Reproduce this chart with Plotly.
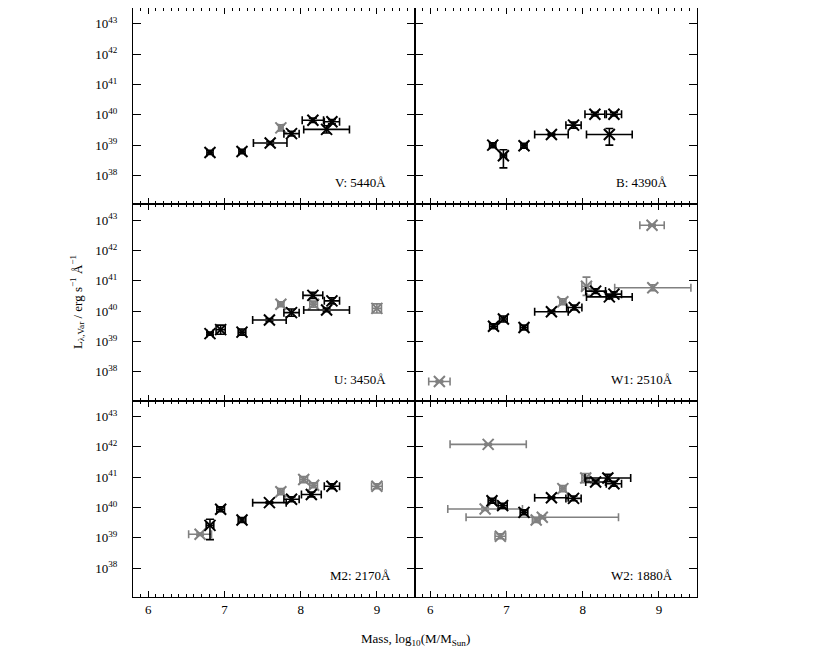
import plotly.graph_objects as go
from plotly.subplots import make_subplots

# ---------------- data (log10 mass, log10 luminosity) ----------------
bands = ["V: 5440Å", "B: 4390Å", "U: 3450Å", "W1: 2510Å", "M2: 2170Å", "W2: 1880Å"]

V_bx = [6.81, 7.23, 7.60, 7.88, 8.16, 8.41, 8.34]
V_by = [38.76, 38.79, 39.07, 39.38, 39.82, 39.77, 39.52]
V_bxe = [0.04, 0.04, 0.22, 0.10, 0.14, 0.10, 0.30]
V_byp = [0.07, 0.07, 0.05, 0.08, 0.07, 0.07, 0.12]
V_bym = [0.07, 0.07, 0.05, 0.08, 0.07, 0.07, 0.12]
V_gx = [7.74]
V_gy = [39.57]
V_gxe = [0.03]
V_gye = [0.10]

B_bx = [6.82, 6.96, 7.23, 7.59, 7.88, 8.16, 8.41, 8.35]
B_by = [39.00, 38.65, 38.98, 39.35, 39.66, 40.02, 40.02, 39.35]
B_bxe = [0.04, 0.04, 0.04, 0.22, 0.10, 0.13, 0.10, 0.30]
B_byp = [0.08, 0.20, 0.08, 0.04, 0.10, 0.06, 0.06, 0.20]
B_bym = [0.08, 0.40, 0.08, 0.04, 0.10, 0.06, 0.06, 0.35]
B_gx, B_gy, B_gxe, B_gye = [], [], [], []

U_bx = [6.81, 6.95, 7.23, 7.59, 7.88, 8.16, 8.41, 8.34]
U_by = [39.26, 39.39, 39.31, 39.71, 39.95, 40.52, 40.34, 40.04]
U_bxe = [0.04, 0.06, 0.05, 0.22, 0.10, 0.13, 0.10, 0.30]
U_byp = [0.05, 0.15, 0.10, 0.05, 0.12, 0.10, 0.10, 0.06]
U_bym = [0.05, 0.15, 0.10, 0.05, 0.12, 0.10, 0.10, 0.06]
U_gx = [7.74, 8.17, 9.00]
U_gy = [40.23, 40.23, 40.09]
U_gxe = [0.04, 0.05, 0.06]
U_gye = [0.08, 0.10, 0.15]

W1_bx = [6.83, 6.96, 7.23, 7.59, 7.89, 8.17, 8.41, 8.35]
W1_by = [39.50, 39.74, 39.46, 39.98, 40.12, 40.66, 40.56, 40.47]
W1_bxe = [0.05, 0.05, 0.05, 0.22, 0.10, 0.13, 0.10, 0.30]
W1_byp = [0.08, 0.10, 0.08, 0.05, 0.08, 0.08, 0.08, 0.06]
W1_bym = [0.08, 0.10, 0.08, 0.05, 0.08, 0.08, 0.08, 0.06]
W1_gx = [6.12, 7.74, 8.05, 8.91, 8.92]
W1_gy = [37.68, 40.31, 40.82, 42.83, 40.77]
W1_gxe = [0.14, 0.04, 0.06, 0.16, 0.50]
W1_gye = [0.03, 0.10, 0.30, 0.03, 0.10]

M2_bx = [6.81, 6.95, 7.23, 7.59, 7.88, 8.14, 8.41]
M2_by = [39.41, 39.94, 39.59, 40.16, 40.27, 40.43, 40.70]
M2_bxe = [0.05, 0.05, 0.05, 0.22, 0.10, 0.13, 0.10]
M2_byp = [0.20, 0.08, 0.08, 0.03, 0.08, 0.08, 0.08]
M2_bym = [0.47, 0.08, 0.08, 0.03, 0.08, 0.08, 0.08]
M2_gx = [6.68, 7.74, 8.04, 8.17, 9.00]
M2_gy = [39.12, 40.52, 40.92, 40.73, 40.70]
M2_gxe = [0.15, 0.04, 0.05, 0.05, 0.07]
M2_gye = [0.04, 0.10, 0.10, 0.08, 0.08]

W2_bx = [6.81, 6.95, 7.23, 7.59, 7.88, 8.17, 8.33, 8.41]
W2_by = [40.22, 40.06, 39.84, 40.32, 40.30, 40.84, 40.97, 40.78]
W2_bxe = [0.05, 0.06, 0.05, 0.22, 0.10, 0.13, 0.30, 0.10]
W2_byp = [0.08, 0.08, 0.08, 0.03, 0.08, 0.06, 0.12, 0.08]
W2_bym = [0.08, 0.08, 0.08, 0.03, 0.08, 0.06, 0.12, 0.08]
W2_gx = [6.76, 6.72, 7.47, 7.39, 6.92, 7.74, 8.04]
W2_gy = [42.08, 39.95, 39.68, 39.59, 39.05, 40.62, 40.97]
W2_gxe = [0.50, 0.49, 1.00, 0.05, 0.07, 0.04, 0.05]
W2_gye = [0.03, 0.05, 0.05, 0.08, 0.08, 0.10, 0.15]

y_tickvals = [38, 39, 40, 41, 42, 43]
y_ticktext = ["10<sup>38</sup>", "10<sup>39</sup>", "10<sup>40</sup>",
              "10<sup>41</sup>", "10<sup>42</sup>", "10<sup>43</sup>"]
x_tickvals = [6, 7, 8, 9]
x_ticktext = ["6", "7", "8", "9"]

panels = [
    (V_bx, V_by, V_bxe, V_byp, V_bym, V_gx, V_gy, V_gxe, V_gye),
    (B_bx, B_by, B_bxe, B_byp, B_bym, B_gx, B_gy, B_gxe, B_gye),
    (U_bx, U_by, U_bxe, U_byp, U_bym, U_gx, U_gy, U_gxe, U_gye),
    (W1_bx, W1_by, W1_bxe, W1_byp, W1_bym, W1_gx, W1_gy, W1_gxe, W1_gye),
    (M2_bx, M2_by, M2_bxe, M2_byp, M2_bym, M2_gx, M2_gy, M2_gxe, M2_gye),
    (W2_bx, W2_by, W2_bxe, W2_byp, W2_bym, W2_gx, W2_gy, W2_gxe, W2_gye),
]

FONT = "Liberation Serif, Times New Roman, Times, serif"
GRAY = "#808080"

fig = make_subplots(rows=3, cols=2, horizontal_spacing=0, vertical_spacing=0)

for i, (bx, by, bxe, byp, bym, gx, gy, gxe, gye) in enumerate(panels):
    r, c = i // 2 + 1, i % 2 + 1
    if gx:
        fig.add_trace(go.Scatter(
            x=gx, y=gy, mode="markers",
            marker=dict(symbol="x-thin-open", size=11, color=GRAY, line=dict(width=2, color=GRAY)),
            error_x=dict(type="data", array=gxe, color=GRAY, thickness=1.6, width=4),
            error_y=dict(type="data", array=gye, color=GRAY, thickness=1.6, width=4),
            showlegend=False), row=r, col=c)
    fig.add_trace(go.Scatter(
        x=bx, y=by, mode="markers",
        marker=dict(symbol="x-thin-open", size=11, color="black", line=dict(width=2, color="black")),
        error_x=dict(type="data", array=bxe, color="black", thickness=1.6, width=4),
        error_y=dict(type="data", symmetric=False, array=byp, arrayminus=bym,
                     color="black", thickness=1.6, width=4),
        showlegend=False), row=r, col=c)
    fig.add_annotation(text=bands[i], xref="x domain" if i == 0 else f"x{i+1} domain",
                       yref="y domain" if i == 0 else f"y{i+1} domain",
                       x=0.805, y=0.11, xanchor="center", yanchor="middle", showarrow=False,
                       font=dict(family=FONT, size=13, color="black"))

for i in range(6):
    r, c = i // 2 + 1, i % 2 + 1
    fig.update_xaxes(range=[5.8, 9.5], tickvals=x_tickvals, ticktext=x_ticktext,
                     showticklabels=(r == 3), ticks="inside", ticklen=6, tickwidth=1.2,
                     tickcolor="black", minor=dict(dtick=0.1, ticks="inside", ticklen=3,
                                                   tickwidth=1, tickcolor="black"),
                     showline=True, linecolor="black", linewidth=1, mirror="ticks",
                     showgrid=False, zeroline=False,
                     tickfont=dict(family=FONT, size=13, color="black"), row=r, col=c)
    fig.update_yaxes(range=[37.05, 43.52], tickvals=y_tickvals, ticktext=y_ticktext,
                     showticklabels=(c == 1), ticks="inside", ticklen=8, tickwidth=1.2,
                     tickcolor="black", showline=True, linecolor="black", linewidth=1,
                     mirror="ticks", showgrid=False, zeroline=False, ticklabelstandoff=12,
                     tickfont=dict(family=FONT, size=13, color="black"), row=r, col=c)

fig.add_annotation(text="L<sub>λ,Var</sub> / erg s<sup>−1</sup> Å<sup>−1</sup>",
                   xref="paper", yref="paper", x=-0.1, y=0.5, textangle=-90,
                   xanchor="center", yanchor="middle", showarrow=False,
                   font=dict(family=FONT, size=13, color="black"))
fig.add_annotation(text="Mass, log<sub>10</sub>(M/M<sub>Sun</sub>)",
                   xref="paper", yref="paper", x=0.5, y=-0.073,
                   xanchor="center", yanchor="middle", showarrow=False,
                   font=dict(family=FONT, size=13, color="black"))

fig.update_layout(width=830, height=664, margin=dict(l=125, r=141, t=0, b=75),
                  paper_bgcolor="white", plot_bgcolor="white",
                  font=dict(family=FONT, size=13, color="black"))

fig.write_html("out.html")
